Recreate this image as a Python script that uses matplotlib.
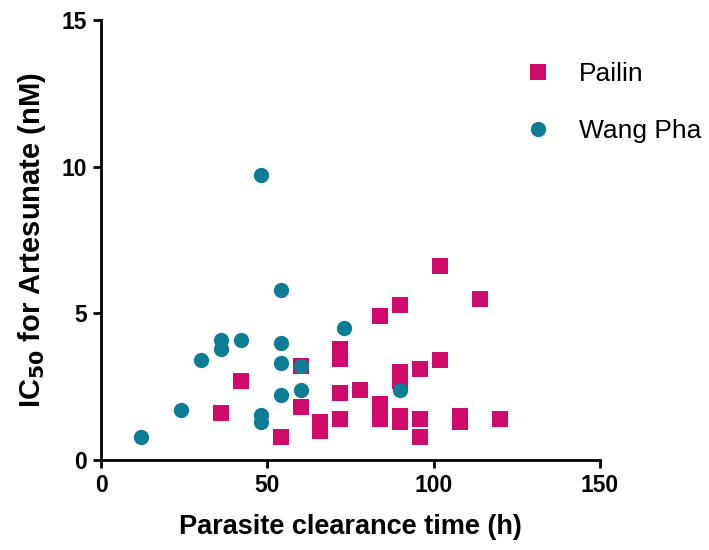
import numpy as np
import matplotlib
matplotlib.use("Agg")
import matplotlib.pyplot as plt

plt.rcParams['font.family'] = ['Liberation Sans', 'DejaVu Sans']

# Pailin isolates: clearance time (h) vs IC50 (nM)
pailin_x = [36, 42, 54, 60, 60, 66, 66, 72, 72, 72, 72, 78, 84, 84, 84,
            90, 90, 90, 90, 90, 96, 96, 96, 102, 102, 108, 108, 114, 120]
pailin_y = [1.6, 2.7, 0.8, 3.2, 1.8, 1.3, 1.0, 3.8, 3.45, 2.3, 1.4, 2.4, 4.9, 1.9, 1.4,
            5.3, 3.0, 2.7, 1.5, 1.3, 3.1, 1.4, 0.8, 6.6, 3.4, 1.5, 1.3, 5.5, 1.4]

# Wang Pha isolates
wang_x = [12, 24, 30, 36, 36, 42, 48, 48, 48, 54, 54, 54, 54, 60, 60, 73, 90]
wang_y = [0.8, 1.7, 3.4, 3.8, 4.1, 4.1, 9.7, 1.55, 1.3, 5.8, 4.0, 3.3, 2.2, 3.2, 2.4, 4.5, 2.4]

c_pailin = '#CF0A6B'
c_wang = '#0C7D94'

fig = plt.figure(figsize=(7.09, 5.5), dpi=100)
ax = fig.add_axes([0.1425, 0.1636, 0.7035, 0.8])

ax.plot(pailin_x, pailin_y, 's', color=c_pailin, markersize=11, mew=0, label='Pailin')
ax.plot(wang_x, wang_y, 'o', color=c_wang, markersize=11, mew=0, label='Wang Pha')

ax.set_xlim(0, 150)
ax.set_ylim(0, 15)
ax.set_xticks([0, 50, 100, 150])
ax.set_yticks([0, 5, 10, 15])

for s in ['top', 'right']:
    ax.spines[s].set_visible(False)
for s in ['left', 'bottom']:
    ax.spines[s].set_linewidth(2)
ax.tick_params(width=2, length=6, labelsize=16.5, pad=4)
for lab in ax.get_xticklabels() + ax.get_yticklabels():
    lab.set_fontweight('bold')

ax.set_xlabel('Parasite clearance time (h)', fontsize=19.5, fontweight='bold', labelpad=12)
ax.set_ylabel('IC$_{\\mathbf{50}}$ for Artesunate (nM)', fontsize=21, fontweight='bold', labelpad=10)

leg = ax.legend(loc='upper left', bbox_to_anchor=(0.85, 0.905), frameon=False,
                fontsize=19, borderpad=0, handlelength=1.0, handletextpad=1.05,
                labelspacing=1.25, markerscale=1.0, borderaxespad=0)

fig.savefig('out.png', dpi=100)
